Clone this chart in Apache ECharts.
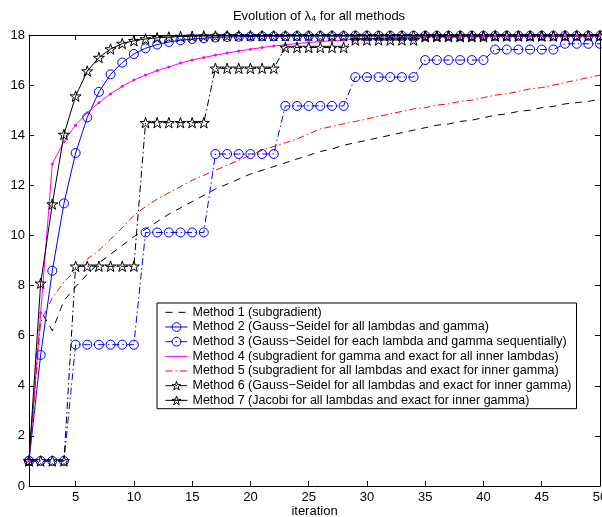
<!DOCTYPE html>
<html><head><meta charset="utf-8">
<script src="https://cdn.jsdelivr.net/npm/echarts@6/dist/echarts.min.js"></script>
<style>html,body{margin:0;padding:0;background:#fff}#c{width:602px;height:517px}</style>
</head><body><div id="c"></div>
<script>
const iterations = [1,2,3,4,5,6,7,8,9,10,11,12,13,14,15,16,17,18,19,20,21,22,23,24,25,26,27,28,29,30,31,32,33,34,35,36,37,38,39,40,41,42,43,44,45,46,47,48,49,50];
const xTicks = [5,10,15,20,25,30,35,40,45,50];
const yTicks = [0,2,4,6,8,10,12,14,16,18];

const seriesNames = [
  'Method 1 (subgradient)',
  'Method 2 (Gauss\u2212Seidel for all lambdas and gamma)',
  'Method 3 (Gauss\u2212Seidel for each lambda and gamma sequentially)',
  'Method 4 (subgradient for gamma and exact for all inner lambdas)',
  'Method 5 (subgradient for all lambdas and exact for inner gamma)',
  'Method 6 (Gauss\u2212Seidel for all lambdas and exact for inner gamma)',
  'Method 7 (Jacobi for all lambdas and exact for inner gamma)'
];

const method1 = [1,7.0,6.2,7.4,7.95,8.45,8.9,9.25,9.6,9.95,10.25,10.55,10.85,11.1,11.35,11.6,11.85,12.05,12.25,12.45,12.6,12.75,12.9,13.05,13.2,13.35,13.45,13.6,13.7,13.8,13.9,14.0,14.1,14.2,14.3,14.4,14.45,14.55,14.6,14.7,14.8,14.85,14.95,15.0,15.1,15.15,15.25,15.3,15.35,15.43];
const method2 = [1,5.23,8.59,11.28,13.29,14.71,15.73,16.43,16.9,17.24,17.47,17.62,17.72,17.79,17.84,17.87,17.9,17.92,17.93,17.94,17.95,17.95,17.95,17.96,17.96,17.96,17.96,17.96,17.97,17.97,17.97,17.97,17.97,17.97,17.97,17.97,17.97,17.97,17.97,17.97,17.97,17.97,17.97,17.97,17.97,17.97,17.97,17.97,17.97,17.97];
const method3 = [1,1,1,1,5.64,5.64,5.64,5.64,5.64,5.64,10.12,10.12,10.12,10.12,10.12,10.12,13.25,13.25,13.25,13.25,13.25,13.25,15.17,15.17,15.17,15.17,15.17,15.17,16.32,16.32,16.32,16.32,16.32,16.32,17.0,17.0,17.0,17.0,17.0,17.0,17.42,17.42,17.42,17.42,17.42,17.42,17.65,17.65,17.65,17.65];
const method4 = [1,6.9,12.85,13.75,14.4,14.9,15.3,15.65,15.95,16.2,16.4,16.58,16.72,16.88,17.0,17.1,17.2,17.28,17.36,17.43,17.5,17.56,17.61,17.66,17.7,17.74,17.77,17.8,17.83,17.85,17.87,17.89,17.9,17.91,17.92,17.93,17.93,17.94,17.94,17.95,17.95,17.95,17.96,17.96,17.96,17.96,17.96,17.97,17.97,17.97];
const method5 = [1,6.55,7.5,8.15,8.6,9.05,9.4,9.85,10.3,10.8,11.15,11.45,11.7,11.95,12.2,12.4,12.6,12.8,13.0,13.2,13.4,13.55,13.7,13.85,14.05,14.25,14.35,14.45,14.55,14.65,14.75,14.85,14.95,15.05,15.1,15.2,15.25,15.35,15.4,15.5,15.6,15.65,15.75,15.85,15.9,16.0,16.1,16.2,16.3,16.4];
const method6 = [1,1,1,1,8.77,8.77,8.77,8.77,8.77,8.77,14.5,14.5,14.5,14.5,14.5,14.5,16.67,16.67,16.67,16.67,16.67,16.67,17.5,17.5,17.5,17.5,17.5,17.5,17.8,17.8,17.8,17.8,17.8,17.8,17.93,17.93,17.93,17.93,17.93,17.93,17.96,17.96,17.96,17.96,17.96,17.96,17.97,17.97,17.97,17.97];
const method7 = [1,8.09,11.25,14.03,15.56,16.56,17.1,17.44,17.66,17.77,17.84,17.89,17.92,17.94,17.95,17.96,17.96,17.97,17.97,17.97,17.97,17.97,17.97,17.97,17.97,17.97,17.97,17.97,17.97,17.97,17.97,17.97,17.97,17.97,17.97,17.97,17.97,17.97,17.97,17.97,17.97,17.97,17.97,17.97,17.97,17.97,17.97,17.97,17.97,17.97];

const STAR = 'path://M100,0 L122.45,69.1 L195.1,69.1 L136.3,111.8 L158.8,180.9 L100,138.2 L41.2,180.9 L63.7,111.8 L4.9,69.1 L77.55,69.1 Z';
const FONT = 'Liberation Sans, Arial, Helvetica, sans-serif';
const pair = arr => arr.map((v, i) => [iterations[i], v]);
const dashDot = [7, 3, 1.5, 3];
const dashed = [7, 6];
const CLEAR = 'rgba(0,0,0,0)';

const styles = [
  {color: '#000000', type: dashed, symbol: 'none', size: 0, fill: CLEAR, lw: 0},
  {color: '#0000ff', type: 'solid', symbol: 'circle', size: 9, fill: CLEAR, lw: 1},
  {color: '#0000ff', type: dashDot, symbol: 'circle', size: 9, fill: CLEAR, lw: 1},
  {color: '#ff00ff', type: 'solid', symbol: 'circle', size: 3, fill: '#ff00ff', lw: 0},
  {color: '#ff0000', type: dashDot, symbol: 'none', size: 0, fill: CLEAR, lw: 0},
  {color: '#000000', type: dashDot, symbol: STAR, size: 11, fill: CLEAR, lw: 1},
  {color: '#000000', type: 'solid', symbol: STAR, size: 11, fill: CLEAR, lw: 1}
];
const values = [method1, method2, method3, method4, method5, method6, method7];

const series = values.map((d, k) => {
  const s = styles[k];
  return {
    name: seriesNames[k], type: 'line', data: pair(d),
    showSymbol: s.symbol !== 'none', symbol: s.symbol, symbolSize: s.size, symbolKeepAspect: true,
    lineStyle: {color: s.color, width: 1, type: s.type},
    itemStyle: {color: s.fill, borderColor: s.color, borderWidth: s.lw},
    emphasis: {disabled: true}, animation: false, clip: false
  };
});

const legendData = seriesNames.map((n, k) => {
  const s = styles[k];
  const showSym = s.symbol !== 'none' && k !== 3;
  return {
    name: n,
    itemStyle: {color: CLEAR, borderColor: showSym ? s.color : CLEAR, borderWidth: showSym ? 1 : 0},
    lineStyle: {color: s.color, width: 1, type: s.type}
  };
});

const chart = echarts.init(document.getElementById('c'), null, {renderer: 'canvas'});
chart.setOption({
  animation: false,
  backgroundColor: '#fff',
  title: {
    text: 'Evolution of \u03bb\u2084 for all methods',
    left: 314, top: 5, textAlign: 'center',
    textStyle: {fontFamily: FONT, fontSize: 13, fontWeight: 'normal', color: '#000'}
  },
  grid: {left: 29, right: 2, top: 35, bottom: 31, containLabel: false, outerBoundsMode: 'none'},
  legend: {
    orient: 'vertical', left: 157, top: 303,
    itemWidth: 22, itemHeight: 11, itemGap: 0,
    padding: [2, 5, 1, 8],
    borderColor: '#000', borderWidth: 1, backgroundColor: '#fff',
    textStyle: {fontFamily: FONT, fontSize: 12.5, lineHeight: 14.67, color: '#000'},
    data: legendData
  },
  xAxis: [{
    type: 'value', min: 1, max: 50,
    name: 'iteration', nameLocation: 'middle', nameGap: 19, nameMoveOverlap: false,
    nameTextStyle: {fontFamily: FONT, fontSize: 13, color: '#000', verticalAlign: 'top'},
    axisLine: {show: true, onZero: false, lineStyle: {color: '#000', width: 1}},
    axisTick: {show: true, inside: true, length: 5, customValues: xTicks, lineStyle: {color: '#000'}},
    axisLabel: {customValues: xTicks, fontFamily: FONT, fontSize: 13, color: '#000', margin: 5},
    splitLine: {show: false}
  }, {
    type: 'value', min: 1, max: 50, position: 'top',
    axisLine: {show: true, onZero: false, lineStyle: {color: '#000', width: 1}},
    axisTick: {show: true, inside: true, length: 5, customValues: xTicks, lineStyle: {color: '#000'}},
    axisLabel: {show: false}, splitLine: {show: false}
  }],
  yAxis: [{
    type: 'value', min: 0, max: 18, interval: 2,
    axisLine: {show: true, onZero: false, lineStyle: {color: '#000', width: 1}},
    axisTick: {show: true, inside: true, length: 5, customValues: yTicks, lineStyle: {color: '#000'}},
    axisLabel: {customValues: yTicks, fontFamily: FONT, fontSize: 13, color: '#000', margin: 4},
    splitLine: {show: false}
  }, {
    type: 'value', min: 0, max: 18, interval: 2, position: 'right',
    axisLine: {show: true, onZero: false, lineStyle: {color: '#000', width: 1}},
    axisTick: {show: true, inside: true, length: 5, customValues: yTicks, lineStyle: {color: '#000'}},
    axisLabel: {show: false}, splitLine: {show: false}
  }],
  series: series
});
</script></body></html>
